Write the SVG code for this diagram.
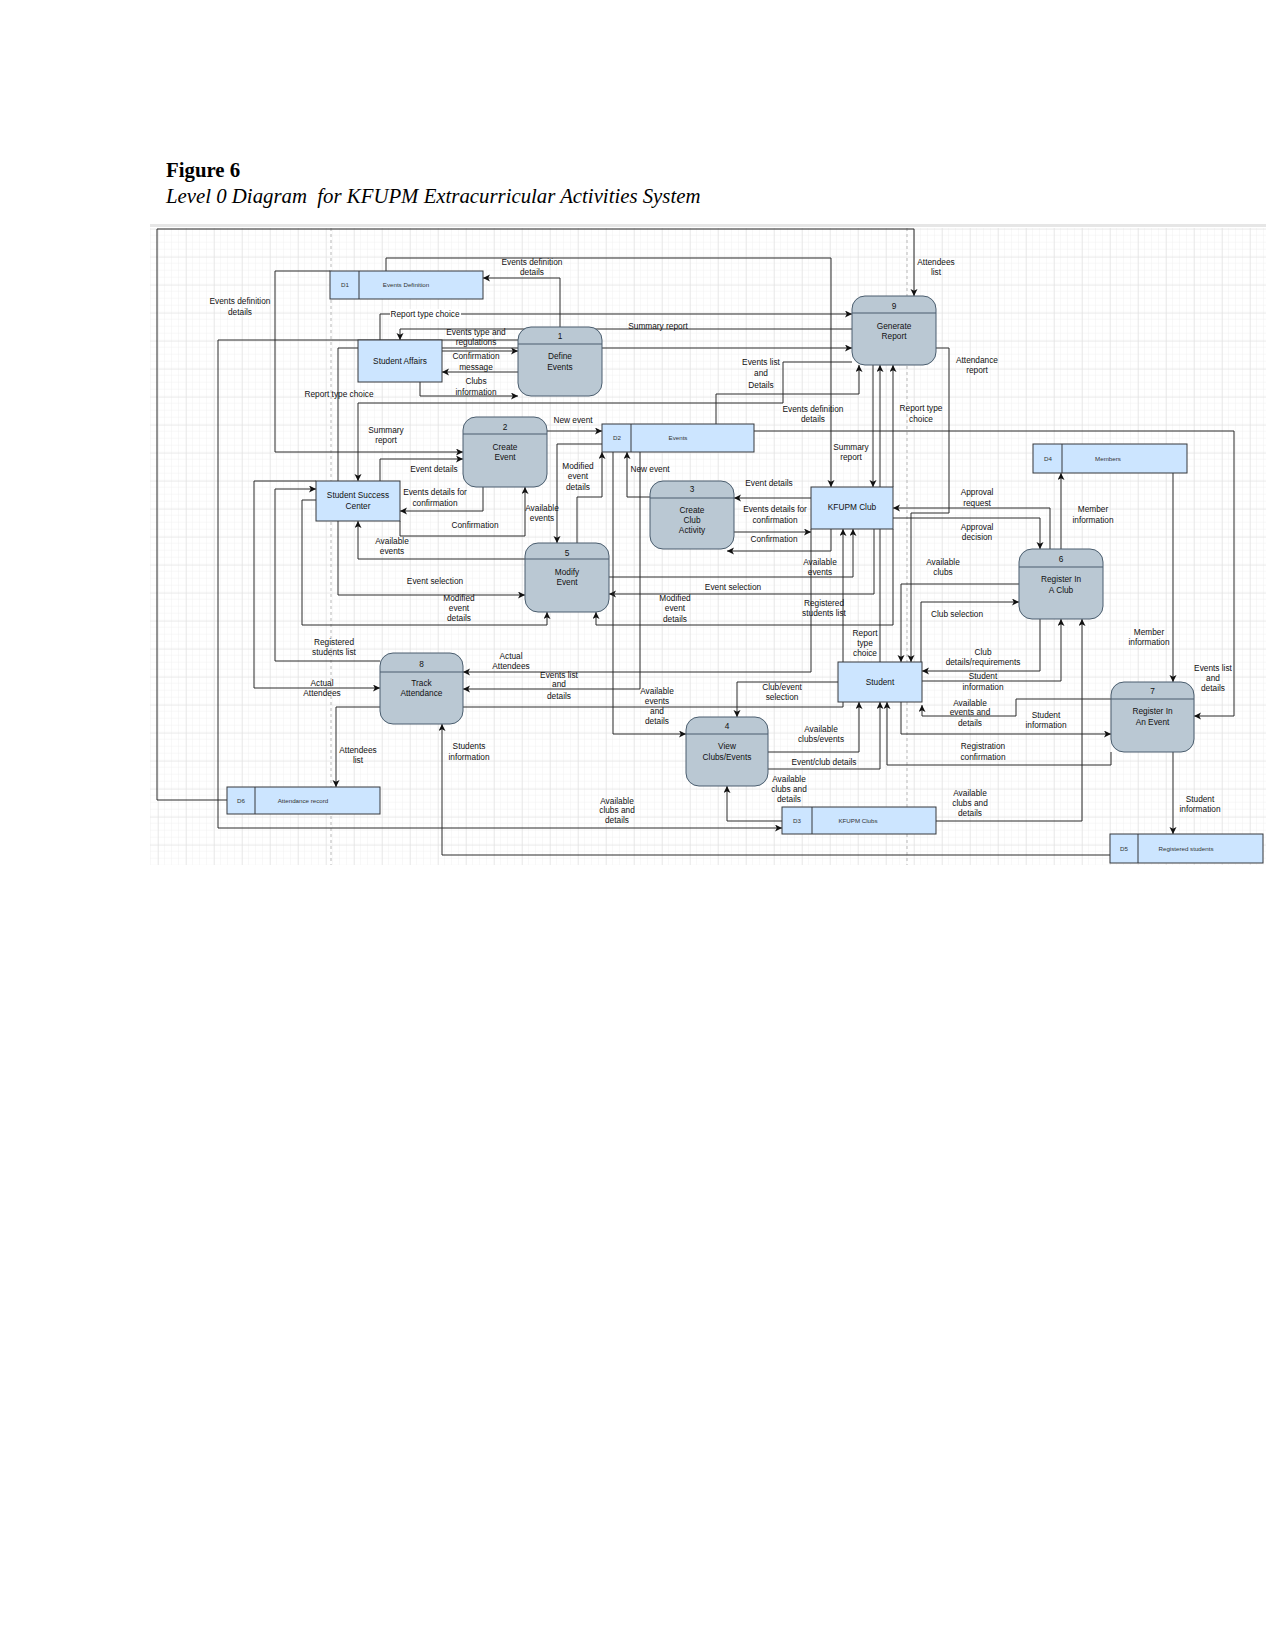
<svg xmlns="http://www.w3.org/2000/svg" width="1275" height="1650" viewBox="0 0 1275 1650">
<style>
.t{font-family:"Liberation Sans",Arial,sans-serif;font-size:8.3px;fill:#111;text-anchor:middle}
.s{font-family:"Liberation Sans",Arial,sans-serif;font-size:6.2px;fill:#333;text-anchor:middle}
.c{fill:none;stroke:#2a2a2a;stroke-width:1}
.p{fill:#bac8d3;stroke:#4a5d6e;stroke-width:1}
.e{fill:#cce5ff;stroke:#36393d;stroke-width:1}
.d{stroke:#36393d;stroke-width:1}
.pd{stroke:#4a5d6e;stroke-width:1}
</style>
<defs>
<marker id="a" markerUnits="userSpaceOnUse" markerWidth="8" markerHeight="8" refX="7" refY="3.5" orient="auto">
<path d="M0,0 L7,3.5 L0,7 L1.8,3.5 z" fill="#111"/>
</marker>
<pattern id="gmin" width="7" height="7" patternUnits="userSpaceOnUse" x="4" y="4.7">
<path d="M7,0 V7 M0,7 H7" fill="none" stroke="#f0f0f0" stroke-width="1"/>
</pattern>
<pattern id="gmaj" width="28" height="28" patternUnits="userSpaceOnUse" x="18" y="4.7">
<path d="M0,0 V28 M0,0 H28" fill="none" stroke="#dedede" stroke-width="1"/>
</pattern>
</defs>
<rect width="1275" height="1650" fill="#fff"/>
<g id="title">
<text x="166" y="177" font-family="Liberation Serif,serif" font-weight="bold" font-size="20.8">Figure 6</text>
<text x="166" y="203" font-family="Liberation Serif,serif" font-style="italic" font-size="20.8" xml:space="preserve">Level 0 Diagram  for KFUPM Extracurricular Activities System</text>
</g>
<g id="grid">
<rect x="150" y="224" width="1116" height="3" fill="#e6e6e6"/>
<rect x="150" y="228" width="1116" height="637" fill="url(#gmin)"/>
<rect x="150" y="228" width="1116" height="637" fill="url(#gmaj)"/>
<path d="M331,228 V865 M907,228 V865" stroke="#b8b8b8" stroke-width="1" stroke-dasharray="3,3" fill="none"/>
</g>
<g id="connectors">
<path class="c" marker-end="url(#a)" d="M227,800 H157 V229 H914 V296"/>
<path class="c" marker-end="url(#a)" d="M560,327 V278 H483"/>
<path class="c" marker-end="url(#a)" d="M386,271 V258 H831 V487"/>
<path class="c" marker-end="url(#a)" d="M330,271 H275 V452 H463"/>
<path class="c" marker-end="url(#a)" d="M380,661 H275 V489 H316"/>
<path class="c" marker-end="url(#a)" d="M518,340 H218 V828 H782"/>
<path class="c" marker-end="url(#a)" d="M380,340 V314 H852"/>
<path class="c" marker-end="url(#a)" d="M852,329 H400 V340"/>
<path class="c" marker-end="url(#a)" d="M442,351 H518"/>
<path class="c" marker-end="url(#a)" d="M518,372 H442"/>
<path class="c" marker-end="url(#a)" d="M420,382 V396 H518"/>
<path class="c" marker-end="url(#a)" d="M338,481 V348 H852"/>
<path class="c" marker-end="url(#a)" d="M338,521 V595 H525"/>
<path class="c" marker-end="url(#a)" d="M716,424 V394 H859 V365"/>
<path class="c" marker-end="url(#a)" d="M852,362 H783 V403 H358 V481"/>
<path class="c" marker-end="url(#a)" d="M873,365 V487"/>
<path class="c" marker-end="url(#a)" d="M893,487 V365"/>
<path class="c" marker-end="url(#a)" d="M880,662 V365"/>
<path class="c" marker-end="url(#a)" d="M936,348 H949 V513 H911 V662"/>
<path class="c" marker-end="url(#a)" d="M1019,584 H901 V662"/>
<path class="c" marker-end="url(#a)" d="M921,662 V602 H1019"/>
<path class="c" marker-end="url(#a)" d="M811,498 H734"/>
<path class="c" marker-end="url(#a)" d="M734,532 H811"/>
<path class="c" marker-end="url(#a)" d="M831,529 V551 H727"/>
<path class="c" marker-end="url(#a)" d="M1050,549 V508 H893"/>
<path class="c" marker-end="url(#a)" d="M893,518 H1040 V549"/>
<path class="c" marker-end="url(#a)" d="M609,577 H853 V529"/>
<path class="c" marker-end="url(#a)" d="M811,529 V672 H463"/>
<path class="c" marker-end="url(#a)" d="M463,707 H843 V529"/>
<path class="c" marker-end="url(#a)" d="M874,529 V594 H609"/>
<path class="c" marker-end="url(#a)" d="M893,529 V625 H596 V612"/>
<path class="c" marker-end="url(#a)" d="M838,682 H737 V717"/>
<path class="c" marker-end="url(#a)" d="M768,752 H859 V702"/>
<path class="c" marker-end="url(#a)" d="M768,769 H880 V702"/>
<path class="c" marker-end="url(#a)" d="M1111,752 V765 H887 V702"/>
<path class="c" marker-end="url(#a)" d="M1111,699 H1016 V716 H922 V705"/>
<path class="c" marker-end="url(#a)" d="M1040,619 V671 H922"/>
<path class="c" marker-end="url(#a)" d="M922,681 H1061 V619"/>
<path class="c" marker-end="url(#a)" d="M901,702 V734 H1111"/>
<path class="c" marker-end="url(#a)" d="M936,821 H1082 V619"/>
<path class="c" marker-end="url(#a)" d="M782,821 H727 V786"/>
<path class="c" marker-end="url(#a)" d="M754,431 H1234 V716 H1194"/>
<path class="c" marker-end="url(#a)" d="M1061,549 V473"/>
<path class="c" marker-end="url(#a)" d="M1173,473 V682"/>
<path class="c" marker-end="url(#a)" d="M1173,752 V834"/>
<path class="c" marker-end="url(#a)" d="M1110,855 H442 V724"/>
<path class="c" marker-end="url(#a)" d="M380,707 H336 V787"/>
<path class="c" marker-end="url(#a)" d="M316,481 H254 V688 H380"/>
<path class="c" marker-end="url(#a)" d="M316,500 H302 V625 H547 V612"/>
<path class="c" marker-end="url(#a)" d="M380,481 V459 H463"/>
<path class="c" marker-end="url(#a)" d="M483,487 V511 H400"/>
<path class="c" marker-end="url(#a)" d="M400,521 V536 H525 V487"/>
<path class="c" marker-end="url(#a)" d="M525,559 H358 V521"/>
<path class="c" marker-end="url(#a)" d="M547,431 H602"/>
<path class="c" marker-end="url(#a)" d="M602,444 H557 V543"/>
<path class="c" marker-end="url(#a)" d="M577,543 V497 H602 V452"/>
<path class="c" marker-end="url(#a)" d="M650,497 H627 V452"/>
<path class="c" marker-end="url(#a)" d="M613,452 V734 H686"/>
<path class="c" marker-end="url(#a)" d="M640,452 V689 H463"/>
</g>
<g id="labels">
<text class="t" x="936" y="265">Attendees</text><text class="t" x="936" y="275">list</text>
<text class="t" x="532" y="265">Events definition</text><text class="t" x="532" y="275">details</text>
<text class="t" x="813" y="412">Events definition</text><text class="t" x="813" y="422">details</text>
<text class="t" x="240" y="304">Events definition</text><text class="t" x="240" y="315">details</text>
<text class="t" x="334" y="645">Registered</text><text class="t" x="334" y="655">students list</text>
<text class="t" x="617" y="804">Available</text><text class="t" x="617" y="813">clubs and</text><text class="t" x="617" y="823">details</text>
<rect x="390" y="309" width="71" height="10" fill="#fff"/>
<text class="t" x="425" y="317">Report type choice</text>
<text class="t" x="658" y="329">Summary report</text>
<text class="t" x="476" y="335">Events type and</text><text class="t" x="476" y="345">regulations</text>
<text class="t" x="476" y="359">Confirmation</text><text class="t" x="476" y="370">message</text>
<text class="t" x="476" y="384">Clubs</text><text class="t" x="476" y="395">information</text>
<text class="t" x="339" y="397">Report type choice</text>
<text class="t" x="435" y="584">Event selection</text>
<text class="t" x="761" y="365">Events list</text><text class="t" x="761" y="376">and</text><text class="t" x="761" y="388">Details</text>
<text class="t" x="386" y="433">Summary</text><text class="t" x="386" y="443">report</text>
<text class="t" x="851" y="450">Summary</text><text class="t" x="851" y="460">report</text>
<text class="t" x="921" y="411">Report type</text><text class="t" x="921" y="422">choice</text>
<text class="t" x="865" y="636">Report</text><text class="t" x="865" y="646">type</text><text class="t" x="865" y="656">choice</text>
<text class="t" x="977" y="363">Attendance</text><text class="t" x="977" y="373">report</text>
<text class="t" x="943" y="565">Available</text><text class="t" x="943" y="575">clubs</text>
<text class="t" x="957" y="617">Club selection</text>
<text class="t" x="769" y="486">Event details</text>
<text class="t" x="775" y="512">Events details for</text><text class="t" x="775" y="523">confirmation</text>
<text class="t" x="774" y="542">Confirmation</text>
<text class="t" x="977" y="495">Approval</text><text class="t" x="977" y="506">request</text>
<text class="t" x="977" y="530">Approval</text><text class="t" x="977" y="540">decision</text>
<text class="t" x="820" y="565">Available</text><text class="t" x="820" y="575">events</text>
<text class="t" x="511" y="659">Actual</text><text class="t" x="511" y="669">Attendees</text>
<text class="t" x="824" y="606">Registered</text><text class="t" x="824" y="616">students list</text>
<text class="t" x="733" y="590">Event selection</text>
<text class="t" x="675" y="601">Modified</text><text class="t" x="675" y="611">event</text><text class="t" x="675" y="622">details</text>
<text class="t" x="782" y="690">Club/event</text><text class="t" x="782" y="700">selection</text>
<text class="t" x="821" y="732">Available</text><text class="t" x="821" y="742">clubs/events</text>
<text class="t" x="824" y="765">Event/club details</text>
<text class="t" x="983" y="749">Registration</text><text class="t" x="983" y="760">confirmation</text>
<text class="t" x="970" y="706">Available</text><text class="t" x="970" y="715">events and</text><text class="t" x="970" y="726">details</text>
<text class="t" x="983" y="655">Club</text><text class="t" x="983" y="665">details/requirements</text>
<text class="t" x="983" y="679">Student</text><text class="t" x="983" y="690">information</text>
<text class="t" x="1046" y="718">Student</text><text class="t" x="1046" y="728">information</text>
<text class="t" x="970" y="796">Available</text><text class="t" x="970" y="806">clubs and</text><text class="t" x="970" y="816">details</text>
<text class="t" x="789" y="782">Available</text><text class="t" x="789" y="792">clubs and</text><text class="t" x="789" y="802">details</text>
<text class="t" x="1213" y="671">Events list</text><text class="t" x="1213" y="681">and</text><text class="t" x="1213" y="691">details</text>
<text class="t" x="1093" y="512">Member</text><text class="t" x="1093" y="523">information</text>
<text class="t" x="1149" y="635">Member</text><text class="t" x="1149" y="645">information</text>
<text class="t" x="1200" y="802">Student</text><text class="t" x="1200" y="812">information</text>
<text class="t" x="469" y="749">Students</text><text class="t" x="469" y="760">information</text>
<text class="t" x="358" y="753">Attendees</text><text class="t" x="358" y="763">list</text>
<text class="t" x="322" y="686">Actual</text><text class="t" x="322" y="696">Attendees</text>
<text class="t" x="459" y="601">Modified</text><text class="t" x="459" y="611">event</text><text class="t" x="459" y="621">details</text>
<text class="t" x="434" y="472">Event details</text>
<text class="t" x="435" y="495">Events details for</text><text class="t" x="435" y="506">confirmation</text>
<text class="t" x="475" y="528">Confirmation</text>
<text class="t" x="392" y="544">Available</text><text class="t" x="392" y="554">events</text>
<text class="t" x="573" y="423">New event</text>
<text class="t" x="542" y="511">Available</text><text class="t" x="542" y="521">events</text>
<text class="t" x="578" y="469">Modified</text><text class="t" x="578" y="479">event</text><text class="t" x="578" y="490">details</text>
<text class="t" x="650" y="472">New event</text>
<text class="t" x="657" y="694">Available</text><text class="t" x="657" y="704">events</text><text class="t" x="657" y="714">and</text><text class="t" x="657" y="724">details</text>
<text class="t" x="559" y="678">Events list</text><text class="t" x="559" y="687">and</text><text class="t" x="559" y="699">details</text>
</g>
<g id="D1"><rect class="e" x="330" y="271" width="153" height="28"/><line class="d" x1="359" y1="271" x2="359" y2="299"/><text class="s" x="345" y="287">D1</text><text class="s" x="406" y="287">Events Definition</text></g>
<g id="student-affairs"><rect class="e" x="358" y="340" width="84" height="42"/><text class="t" x="400" y="364">Student Affairs</text></g>
<g id="p1"><rect class="p" x="518" y="327" width="84" height="69" rx="13"/><line class="pd" x1="518" y1="344" x2="602" y2="344"/><text class="t" x="560" y="339">1</text><text class="t" x="560" y="359">Define</text><text class="t" x="560" y="370">Events</text></g>
<g id="p9"><rect class="p" x="852" y="296" width="84" height="69" rx="13"/><line class="pd" x1="852" y1="313" x2="936" y2="313"/><text class="t" x="894" y="309">9</text><text class="t" x="894" y="329">Generate</text><text class="t" x="894" y="339">Report</text></g>
<g id="p2"><rect class="p" x="463" y="417" width="84" height="70" rx="13"/><line class="pd" x1="463" y1="434" x2="547" y2="434"/><text class="t" x="505" y="430">2</text><text class="t" x="505" y="450">Create</text><text class="t" x="505" y="460">Event</text></g>
<g id="D2"><rect class="e" x="602" y="424" width="152" height="28"/><line class="d" x1="631" y1="424" x2="631" y2="452"/><text class="s" x="617" y="440">D2</text><text class="s" x="678" y="440">Events</text></g>
<g id="ssc"><rect class="e" x="316" y="481" width="84" height="40"/><text class="t" x="358" y="498">Student Success</text><text class="t" x="358" y="509">Center</text></g>
<g id="p5"><rect class="p" x="525" y="543" width="84" height="69" rx="13"/><line class="pd" x1="525" y1="559" x2="609" y2="559"/><text class="t" x="567" y="556">5</text><text class="t" x="567" y="575">Modify</text><text class="t" x="567" y="585">Event</text></g>
<g id="p3"><rect class="p" x="650" y="481" width="84" height="68" rx="13"/><line class="pd" x1="650" y1="498" x2="734" y2="498"/><text class="t" x="692" y="492">3</text><text class="t" x="692" y="513">Create</text><text class="t" x="692" y="523">Club</text><text class="t" x="692" y="533">Activity</text></g>
<g id="kfupm-club"><rect class="e" x="811" y="487" width="82" height="42"/><text class="t" x="852" y="510">KFUPM Club</text></g>
<g id="D4"><rect class="e" x="1033" y="444" width="154" height="29"/><line class="d" x1="1062" y1="444" x2="1062" y2="473"/><text class="s" x="1048" y="461">D4</text><text class="s" x="1108" y="461">Members</text></g>
<g id="p6"><rect class="p" x="1019" y="549" width="84" height="70" rx="13"/><line class="pd" x1="1019" y1="567" x2="1103" y2="567"/><text class="t" x="1061" y="562">6</text><text class="t" x="1061" y="582">Register In</text><text class="t" x="1061" y="593">A Club</text></g>
<g id="p8"><rect class="p" x="380" y="653" width="83" height="71" rx="13"/><line class="pd" x1="380" y1="672" x2="463" y2="672"/><text class="t" x="421.5" y="667">8</text><text class="t" x="421.5" y="686">Track</text><text class="t" x="421.5" y="696">Attendance</text></g>
<g id="D6"><rect class="e" x="227" y="787" width="153" height="27"/><line class="d" x1="255" y1="787" x2="255" y2="814"/><text class="s" x="241" y="803">D6</text><text class="s" x="303" y="803">Attendance record</text></g>
<g id="student"><rect class="e" x="838" y="662" width="84" height="40"/><text class="t" x="880" y="685">Student</text></g>
<g id="p4"><rect class="p" x="686" y="717" width="82" height="69" rx="13"/><line class="pd" x1="686" y1="734" x2="768" y2="734"/><text class="t" x="727" y="729">4</text><text class="t" x="727" y="749">View</text><text class="t" x="727" y="760">Clubs/Events</text></g>
<g id="D3"><rect class="e" x="782" y="807" width="154" height="27"/><line class="d" x1="812" y1="807" x2="812" y2="834"/><text class="s" x="797" y="823">D3</text><text class="s" x="858" y="823">KFUPM Clubs</text></g>
<g id="p7"><rect class="p" x="1111" y="682" width="83" height="70" rx="13"/><line class="pd" x1="1111" y1="699" x2="1194" y2="699"/><text class="t" x="1152.5" y="694">7</text><text class="t" x="1152.5" y="714">Register In</text><text class="t" x="1152.5" y="725">An Event</text></g>
<g id="D5"><rect class="e" x="1110" y="834" width="153" height="29"/><line class="d" x1="1138" y1="834" x2="1138" y2="863"/><text class="s" x="1124" y="851">D5</text><text class="s" x="1186" y="851">Registered students</text></g>
</svg>
